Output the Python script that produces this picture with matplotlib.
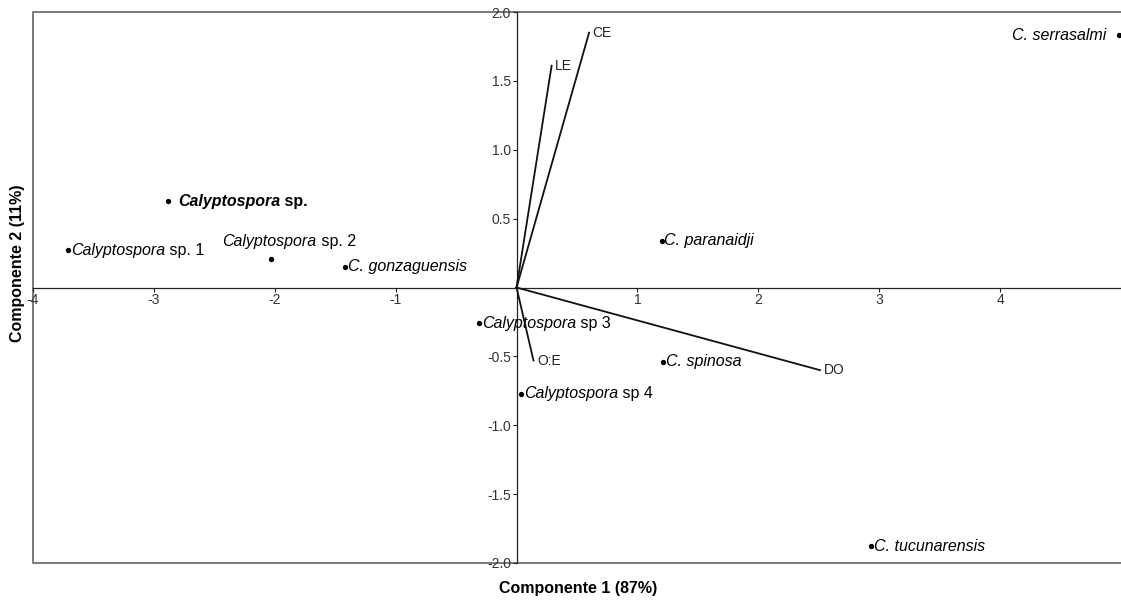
import matplotlib.pyplot as plt

plt.rcParams['font.family'] = ['Liberation Sans', 'DejaVu Sans']

# species scores (PC1, PC2)
species = ['Calyptospora sp.', 'Calyptospora sp. 1', 'Calyptospora sp. 2', 'C. gonzaguensis',
           'C. paranaidji', 'C. serrasalmi', 'Calyptospora sp 3', 'C. spinosa',
           'Calyptospora sp 4', 'C. tucunarensis']
pc1 = [-2.88, -3.71, -2.03, -1.42, 1.20, 4.98, -0.31, 1.21, 0.04, 2.93]
pc2 = [0.625, 0.27, 0.21, 0.15, 0.34, 1.83, -0.26, -0.54, -0.77, -1.88]

# variable loadings
variables = ['CE', 'LE', 'O:E', 'DO']
load1 = [0.60, 0.29, 0.14, 2.51]
load2 = [1.85, 1.61, -0.53, -0.60]

fig = plt.figure(figsize=(11.21, 6.06), dpi=100)
W, H = 1121, 606
ax = fig.add_axes([33 / W, (H - 563) / H, (1121 - 33) / W, (563 - 12) / H])
ax.set_xlim(-4, 5)
ax.set_ylim(-2, 2)

# outer grey frame (left, top, bottom; right side is cut off)
ax.plot([1.01, 0, 0, 1.01], [1, 1, 0, 0], transform=ax.transAxes, color='#7a7a7a',
        lw=1.4, clip_on=False, zorder=1)

# axes through the origin
for s in ['top', 'right']:
    ax.spines[s].set_visible(False)
ax.spines['left'].set_position(('data', 0))
ax.spines['bottom'].set_position(('data', 0))
for s in ['left', 'bottom']:
    ax.spines[s].set_color('#222222')
    ax.spines[s].set_linewidth(0.9)

ax.set_xticks([-4, -3, -2, -1, 1, 2, 3, 4])
ax.set_xticklabels(['-4', '-3', '-2', '-1', '1', '2', '3', '4'])
ax.set_yticks([-2.0, -1.5, -1.0, -0.5, 0.5, 1.0, 1.5, 2.0])
ax.set_yticklabels(['-2.0', '-1.5', '-1.0', '-0.5', '0.5', '1.0', '1.5', '2.0'])
ax.tick_params(axis='both', length=3, width=0.8, colors='#222222', labelsize=10,
               labelcolor='#333333', pad=1)

# loadings as lines from origin
for v, x, y in zip(variables, load1, load2):
    ax.plot([0, x], [0, y], color='#111111', lw=1.3, zorder=3)
    ax.annotate(v, (x, y), xytext=(2.5, 0), textcoords='offset points',
                ha='left', va='center', fontsize=10, color='#222222')

# species points
ax.scatter(pc1, pc2, s=8, color='black', zorder=4, clip_on=False)

fs = 11.5
offsets = {
    'Calyptospora sp.': (7, 0, 'left'),
    'C. serrasalmi': (-9, 0, 'right'),
}
for name, x, y in zip(species, pc1, pc2):
    dx, dy, ha = offsets.get(name, (2, 0, 'left'))
    if name == 'Calyptospora sp.':
        t = ax.annotate('Calyptospora', (x, y), xytext=(dx, dy), textcoords='offset points',
                        ha=ha, va='center', fontsize=fs, fontweight='bold', style='italic')
        ax.annotate(' sp.', xy=(1, 0.5), xycoords=t, ha='left', va='center',
                    fontsize=fs, fontweight='bold')
    elif name == 'Calyptospora sp. 2':
        t = ax.annotate('Calyptospora', (x, y), xytext=(-35, 12), textcoords='offset points',
                        ha='left', va='center', fontsize=fs, style='italic')
        ax.annotate(' sp. 2', xy=(1, 0.5), xycoords=t, ha='left', va='center', fontsize=fs)
    elif name.startswith('Calyptospora'):
        rest = name[len('Calyptospora'):]
        t = ax.annotate('Calyptospora', (x, y), xytext=(dx, dy), textcoords='offset points',
                        ha=ha, va='center', fontsize=fs, style='italic')
        ax.annotate(rest, xy=(1, 0.5), xycoords=t, ha='left', va='center', fontsize=fs)
    else:
        ax.annotate(name, (x, y), xytext=(dx, dy), textcoords='offset points',
                    ha=ha, va='center', fontsize=fs, style='italic')

fig.text(578 / W, (H - 588) / H, 'Componente 1 (87%)', ha='center', va='center',
         fontsize=11.5, fontweight='bold')
fig.text(18 / W, (H - 263) / H, 'Componente 2 (11%)', ha='center', va='center',
         rotation=90, fontsize=11.5, fontweight='bold')

fig.savefig('out.png', dpi=100)
